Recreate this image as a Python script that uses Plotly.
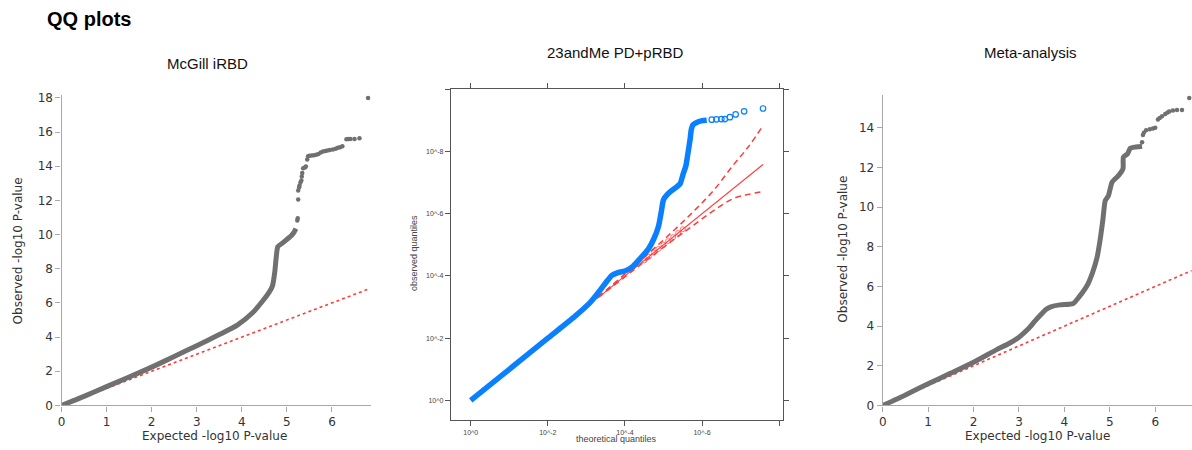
import plotly.graph_objects as go

W, H = 1192, 450

# ---------------- data ----------------
# Panel 1: McGill iRBD  (expected vs observed -log10 P)
mcgill_dense_x = [0, 0.5, 1, 1.5, 2, 2.5, 3, 3.5, 3.9, 4.25, 4.47, 4.6, 4.68, 4.73, 4.76,
                  4.8, 4.9, 5.0, 5.1, 5.16, 5.2]
mcgill_dense_y = [0, 0.53, 1.1, 1.66, 2.24, 2.86, 3.5, 4.15, 4.7, 5.45, 6.14, 6.6, 7.0, 7.8, 8.6,
                  9.3, 9.5, 9.72, 9.95, 10.15, 10.35]
mcgill_tail_x = [5.23, 5.24, 5.25, 5.25, 5.27, 5.28, 5.30, 5.32, 5.33, 5.34, 5.36, 5.40, 5.42,
                 5.45, 5.47, 5.5, 5.55, 5.6, 5.65, 5.7, 5.75, 5.8, 5.85, 5.9, 5.95, 6.02, 6.08,
                 6.13, 6.18, 6.23, 6.32, 6.36, 6.41, 6.50, 6.61, 6.8]
mcgill_tail_y = [10.83, 10.95, 12.05, 12.58, 12.75, 12.87, 13.05, 13.17, 13.4, 13.61, 13.89,
                 13.93, 13.98, 14.39, 14.59, 14.62, 14.63, 14.65, 14.68, 14.72, 14.8, 14.86,
                 14.9, 14.93, 14.95, 14.98, 15.03, 15.08, 15.12, 15.17, 15.58, 15.6, 15.6,
                 15.6, 15.64, 18.0]
mcgill_null = [0, 6.8]

# Panel 2: 23andMe PD+pRBD (log-scale quantiles, shown as -log10 exponents)
tm_dense_x = [0, 1, 2, 2.7, 3.1, 3.3, 3.5, 3.66, 3.8, 4.0, 4.2, 4.44, 4.61, 4.74, 4.87, 4.94,
              5.0, 5.1, 5.21, 5.35, 5.43, 5.51, 5.58, 5.64, 5.69, 5.72, 5.76, 5.86, 5.98, 6.12]
tm_dense_y = [0, 1.0, 2.0, 2.7, 3.15, 3.45, 3.78, 4.02, 4.1, 4.16, 4.3, 4.62, 4.87, 5.17, 5.6,
              6.05, 6.45, 6.62, 6.74, 6.87, 6.96, 7.28, 7.54, 8.0, 8.4, 8.7, 8.85, 8.93, 8.98, 9.0]
tm_tail_x = [6.25, 6.37, 6.5, 6.59, 6.72, 6.87, 7.09, 7.58]
tm_tail_y = [9.02, 9.03, 9.04, 9.04, 9.10, 9.19, 9.29, 9.38]
tm_ref_x = [3.27, 7.58]
tm_ref_y = [3.27, 7.58]
tm_exp_pts = [4.5, 4.62, 4.75, 4.87, 5.0, 5.12, 5.25, 5.38, 5.5]
tm_band_x = [3.3, 4.5, 5.3, 5.8, 6.3, 6.8, 7.2, 7.58]
tm_upper = [3.32, 4.6, 5.5, 6.1, 6.75, 7.55, 8.15, 8.83]
tm_lower = [3.3, 4.45, 5.2, 5.65, 6.1, 6.48, 6.62, 6.71]
tm_xticks = [0, 2, 4, 6, 8]
tm_xlabels = ["10^0", "10^-2", "10^-4", "10^-6", ""]
tm_yticks = [0, 2, 4, 6, 8, 10]
tm_ylabels = ["10^0", "10^-2", "10^-4", "10^-6", "10^-8", ""]

# Panel 3: Meta-analysis
meta_dense_x = [0, 0.5, 1, 1.5, 2, 2.5, 2.8, 3.0, 3.2, 3.35, 3.5, 3.6, 3.7, 3.9, 4.1, 4.2,
                4.32, 4.5, 4.61, 4.72, 4.79, 4.85, 4.9, 4.97, 5.05, 5.19, 5.29, 5.30, 5.39,
                5.45, 5.55, 5.65, 5.71]
meta_dense_y = [0, 0.53, 1.09, 1.63, 2.18, 2.8, 3.15, 3.44, 3.85, 4.25, 4.62, 4.85, 4.97,
                5.07, 5.1, 5.15, 5.46, 6.05, 6.64, 7.47, 8.4, 9.41, 10.33, 10.58, 11.26,
                11.59, 11.93, 12.52, 12.69, 12.97, 13.03, 13.05, 13.07]
meta_tail_x = [5.71, 5.73, 5.75, 5.8, 5.88, 5.95, 6.0, 6.06, 6.1, 6.15, 6.22, 6.27, 6.31,
               6.39, 6.48, 6.59, 6.75]
meta_tail_y = [13.27, 13.64, 13.75, 13.88, 13.93, 13.97, 14.0, 14.42, 14.5, 14.58, 14.7,
               14.77, 14.82, 14.88, 14.9, 14.9, 15.51]
meta_null = [0, 6.8]

titles = ["McGill iRBD", "23andMe PD+pRBD", "Meta-analysis"]

# ---------------- figure ----------------
GRAY = "#707070"
RED = "#ff3b3b"
BLUE = "#0a80ff"

# the photographed page comes out slightly squeezed vertically; compensate
SQ, SOFF = 0.976, 3.4


def px_x(p):
    return p / W


def px_y(p):
    return 1 - ((p - SOFF) / SQ) / H


fig = go.Figure()

# Panel 1
fig.add_trace(go.Scatter(x=mcgill_null, y=mcgill_null, mode="lines", xaxis="x", yaxis="y",
                         line=dict(color=RED, width=1.6, dash="3px,3px"), hoverinfo="skip"))
fig.add_trace(go.Scatter(x=mcgill_dense_x, y=mcgill_dense_y, mode="lines", xaxis="x", yaxis="y",
                         line=dict(color=GRAY, width=5, shape="spline", smoothing=0.6)))
fig.add_trace(go.Scatter(x=mcgill_tail_x, y=mcgill_tail_y, mode="markers", xaxis="x", yaxis="y",
                         marker=dict(color=GRAY, size=4.5), cliponaxis=False))

# Panel 2
fig.add_trace(go.Scatter(x=tm_band_x, y=tm_upper, mode="lines", xaxis="x2", yaxis="y2",
                         line=dict(color=RED, width=1.5, dash="6px,4px", shape="spline")))
fig.add_trace(go.Scatter(x=tm_band_x, y=tm_lower, mode="lines", xaxis="x2", yaxis="y2",
                         line=dict(color=RED, width=1.5, dash="6px,4px", shape="spline")))
fig.add_trace(go.Scatter(x=tm_ref_x, y=tm_ref_y, mode="lines", xaxis="x2", yaxis="y2",
                         line=dict(color=RED, width=1.1)))
fig.add_trace(go.Scatter(x=tm_dense_x, y=tm_dense_y, mode="lines", xaxis="x2", yaxis="y2",
                         line=dict(color=BLUE, width=5.5, shape="spline", smoothing=0.6)))
fig.add_trace(go.Scatter(x=tm_exp_pts, y=tm_exp_pts, mode="markers", xaxis="x2", yaxis="y2",
                         marker=dict(symbol="circle-open", color=RED, size=5,
                                     line=dict(width=1, color=RED)), opacity=0.7))
fig.add_trace(go.Scatter(x=tm_tail_x, y=tm_tail_y, mode="markers", xaxis="x2", yaxis="y2",
                         marker=dict(symbol="circle-open", color=BLUE, size=5.5,
                                     line=dict(width=1.2, color=BLUE))))

# Panel 3
fig.add_trace(go.Scatter(x=meta_null, y=meta_null, mode="lines", xaxis="x3", yaxis="y3",
                         line=dict(color=RED, width=1.6, dash="3px,3px")))
fig.add_trace(go.Scatter(x=meta_dense_x, y=meta_dense_y, mode="lines", xaxis="x3", yaxis="y3",
                         line=dict(color=GRAY, width=5, shape="spline", smoothing=0.6)))
fig.add_trace(go.Scatter(x=meta_tail_x, y=meta_tail_y, mode="markers", xaxis="x3", yaxis="y3",
                         marker=dict(color=GRAY, size=4.5), cliponaxis=False))

num_font = dict(family="DejaVu Sans", size=12, color="#333333")
lin_axis = dict(showline=True, linecolor="#a8a8a8", linewidth=1.3, ticks="outside", ticklen=5,
                tickcolor="#a8a8a8", tickwidth=1.3, showgrid=False, zeroline=False,
                tickfont=num_font)
box_axis = dict(showline=True, mirror="ticks", linecolor="#555555", linewidth=1, ticks="outside",
                ticklen=5, tickcolor="#555555", tickwidth=1, showgrid=False, zeroline=False,
                tickfont=dict(family="Liberation Sans", size=7, color="#444444"))

fig.update_layout(
    width=W, height=H, margin=dict(l=0, r=0, t=0, b=0),
    paper_bgcolor="white", plot_bgcolor="white", showlegend=False,
    xaxis=dict(lin_axis, domain=[px_x(57.7), px_x(368)], range=[0, 6.86],
               tickvals=[0, 1, 2, 3, 4, 5, 6], anchor="y"),
    yaxis=dict(lin_axis, domain=[px_y(405), px_y(94.3)], range=[0, 18.18],
               tickvals=list(range(0, 19, 2)), anchor="x"),
    xaxis2=dict(box_axis, domain=[px_x(448.3), px_x(781.7)], range=[-0.517, 8.10],
                tickvals=tm_xticks, ticktext=tm_xlabels, anchor="y2"),
    yaxis2=dict(box_axis, domain=[px_y(420), px_y(88)], range=[-0.642, 10.02],
                tickvals=tm_yticks, ticktext=tm_ylabels, anchor="x2"),
    xaxis3=dict(lin_axis, domain=[px_x(881.7), 1.0], range=[0, 6.81],
                tickvals=[0, 1, 2, 3, 4, 5, 6], anchor="y3"),
    yaxis3=dict(lin_axis, domain=[px_y(405), px_y(94)], range=[0, 15.68],
                tickvals=list(range(0, 15, 2)), anchor="x3"),
)

title_font = dict(family="Liberation Sans", size=15, color="#111111")
lab_font = dict(family="DejaVu Sans", size=12, color="#333333")
small_font = dict(family="Liberation Sans", size=9, color="#444444")


def ann(text, x, y, font, xanchor="center", angle=0):
    fig.add_annotation(text=text, x=px_x(x), y=px_y(y), xref="paper", yref="paper",
                       showarrow=False, font=font, xanchor=xanchor, yanchor="middle",
                       textangle=angle, borderpad=0)


ann("<b>QQ plots</b>", 42, 18, dict(family="Liberation Sans", size=20, color="#000000"),
    xanchor="left")
ann(titles[0], 204, 63, title_font)
ann(titles[1], 613, 52, title_font)
ann(titles[2], 1030, 52, title_font)
ann("Expected -log10 P-value", 211, 436, lab_font)
ann("Expected -log10 P-value", 1037, 436, lab_font)
ann("Observed -log10 P-value", 15, 250, lab_font, angle=-90)
ann("Observed -log10 P-value", 842, 249, lab_font, angle=-90)
ann("theoretical quantiles", 615, 438.5, small_font)
ann("observed quantiles", 412, 253, small_font, angle=-90)

fig.write_html(
    "out.html",
    config={"displayModeBar": False},
    post_script="document.body.style.margin='0';document.body.style.overflow='hidden';",
)
